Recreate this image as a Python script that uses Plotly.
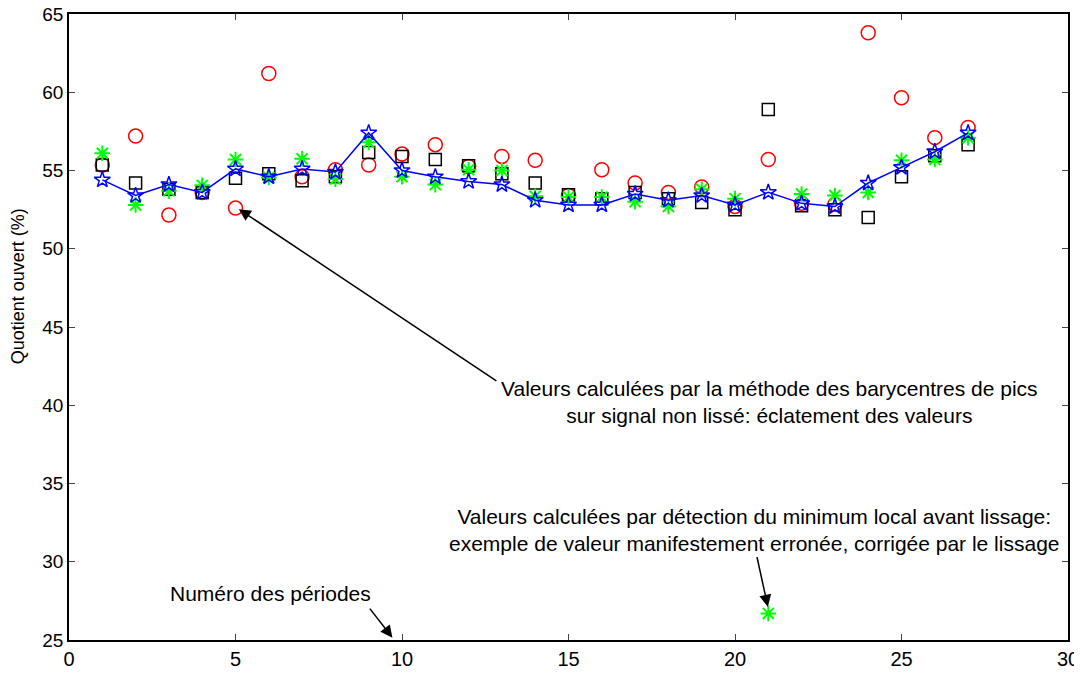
import plotly.graph_objects as go

periodes = list(range(1, 28))

# lisse (ligne bleue, etoiles)
qo_lisse = [54.4, 53.4, 54.1, 53.6, 55.1, 54.6, 55.1, 54.9, 57.4, 55.0, 54.6, 54.3, 54.1, 53.1,
            52.8, 52.8, 53.5, 53.1, 53.4, 52.8, 53.6, 52.9, 52.7, 54.2, 55.2, 56.2, 57.4]
# barycentres de pics, signal non lisse (cercles rouges)
qo_bary = [55.35, 57.2, 52.15, 53.6, 52.6, 61.2, 54.6, 55.05, 55.35, 56.05, 56.65, 55.25, 55.9, 55.65,
           53.4, 55.05, 54.2, 53.6, 53.95, 52.7, 55.7, 52.9, 52.85, 63.8, 59.65, 57.1, 57.75]
# carres noirs
qo_carres = [55.35, 54.2, 53.8, 53.6, 54.5, 54.8, 54.35, 54.6, 56.15, 55.9, 55.7, 55.3, 54.8, 54.2,
             53.45, 53.2, 53.6, 53.2, 52.95, 52.5, 58.9, 52.75, 52.5, 52.0, 54.6, 55.95, 56.65]
# minimum local avant lissage (asterisques verts)
qo_minloc = [56.1, 52.8, 53.7, 54.05, 55.7, 54.55, 55.75, 54.45, 56.8, 54.6, 54.1, 55.05, 55.0, 53.35,
             53.3, 53.3, 53.0, 52.7, 53.8, 53.2, 26.7, 53.5, 53.4, 53.6, 55.65, 55.7, 57.1]

police = "Liberation Sans, Arial, sans-serif"

fig = go.Figure()

fig.add_trace(go.Scatter(x=periodes, y=qo_bary, mode='markers',
                         marker=dict(symbol='circle-open', size=14, color='red',
                                     line=dict(width=1.5, color='red'))))
fig.add_trace(go.Scatter(x=periodes, y=qo_carres, mode='markers',
                         marker=dict(symbol='square-open', size=12, color='black',
                                     line=dict(width=1.5, color='black'))))
fig.add_trace(go.Scatter(x=periodes, y=qo_minloc, mode='markers',
                         marker=dict(symbol='asterisk-open', size=13, color='#00ff00',
                                     line=dict(width=2, color='#00ff00'))))
fig.add_trace(go.Scatter(x=periodes, y=qo_lisse, mode='lines+markers',
                         line=dict(color='blue', width=1.5),
                         marker=dict(symbol='star-open', size=12, color='blue',
                                     line=dict(width=1.5, color='blue'))))

annots = [
    dict(x=21.05, y=40.2, text="Valeurs calculées par la méthode des barycentres de pics<br>"
                               "sur signal non lissé: éclatement des valeurs"),
    dict(x=20.6, y=32.0, text="Valeurs calculées par détection du minimum local avant lissage:<br>"
                              "exemple de valeur manifestement erronée, corrigée par le lissage"),
    dict(x=6.05, y=28.0, text="Numéro des périodes"),
]
for a in annots:
    fig.add_annotation(x=a['x'], y=a['y'], text=a['text'], showarrow=False,
                       xref='x', yref='y', font=dict(family=police, size=21, color='black'))

fleches = [
    dict(x=5.05, y=52.6, ax=12.88, ay=41.5),
    dict(x=21.0, y=27.0, ax=20.65, ay=30.4),
    dict(x=9.75, y=25.05, ax=9.0, ay=27.1),
]
for f in fleches:
    fig.add_annotation(x=f['x'], y=f['y'], ax=f['ax'], ay=f['ay'], xref='x', yref='y',
                       axref='x', ayref='y', text='', showarrow=True, arrowhead=2,
                       arrowsize=1.6, arrowwidth=1.5, arrowcolor='black', standoff=2)

# titre de l'axe y
fig.add_annotation(x=-0.051, y=47.6, xref='paper', yref='y', text='Quotient ouvert (%)',
                   textangle=-90, showarrow=False, xanchor='center', yanchor='middle',
                   font=dict(family=police, size=18, color='black'))

# la page ajoute une marge de 8 px en haut et a gauche
fig.update_layout(
    width=1082, height=673,
    margin=dict(l=61, r=22, t=6, b=41),
    paper_bgcolor='white', plot_bgcolor='white',
    showlegend=False,
    font=dict(family=police, size=20, color='black'),
)
fig.update_xaxes(range=[0, 30], dtick=5, tick0=0, ticks='inside', ticklen=6,
                 showgrid=False, zeroline=False, showline=True, linecolor='black',
                 linewidth=1.5, mirror='ticks', tickfont=dict(size=20), automargin=False,
                 ticklabeloverflow='allow')
fig.update_yaxes(range=[25, 65], dtick=5, tick0=25, ticks='inside', ticklen=6,
                 showgrid=False, zeroline=False, showline=True, linecolor='black',
                 linewidth=1.5, mirror='ticks', tickfont=dict(size=19), automargin=False,
                 ticklabeloverflow='allow')

fig.write_html("out.html")
